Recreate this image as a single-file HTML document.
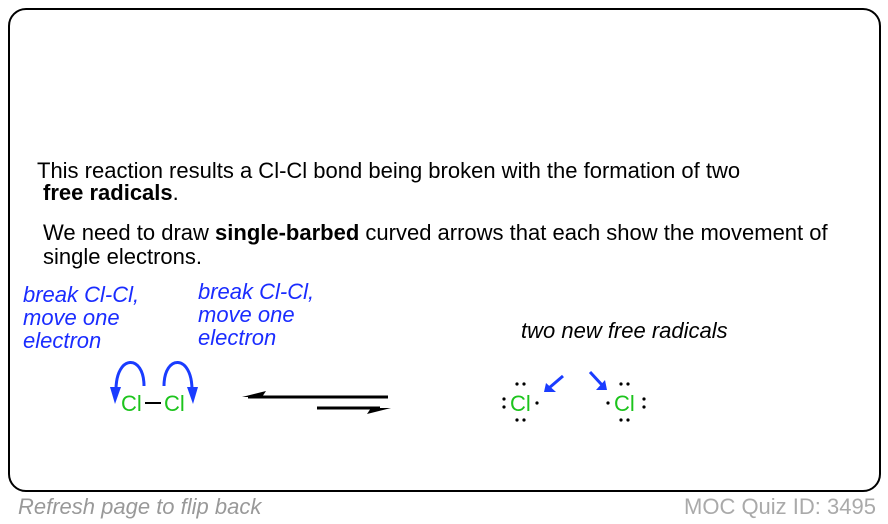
<!DOCTYPE html>
<html><head><style>
body{margin:0;width:888px;height:524px;background:#fff;position:relative;font-family:"Liberation Sans",sans-serif;overflow:hidden}
.box{position:absolute;left:8px;top:8px;width:869px;height:480px;border:2.5px solid #000;border-radius:18px}
.t{position:absolute;font-size:22px;line-height:25px;color:#000;white-space:nowrap}
.b{position:absolute;font-size:22px;color:#1a2cff;font-style:italic;line-height:23px;white-space:nowrap}
</style></head><body>
<div class="box"></div>
<div class="t" style="left:37px;top:158px">This reaction results a Cl-Cl bond being broken with the formation of two</div>
<div class="t" style="left:43px;top:180px"><b>free radicals</b>.</div>
<div class="t" style="left:43px;top:220px">We need to draw <b>single-barbed</b> curved arrows that each show the movement of</div>
<div class="t" style="left:43px;top:244px">single electrons.</div>
<div class="b" style="left:23px;top:283px">break Cl-Cl,<br>move one<br>electron</div>
<div class="b" style="left:198px;top:280px">break Cl-Cl,<br>move one<br>electron</div>
<div class="t" style="left:521px;top:318px;font-style:italic">two new free radicals</div>
<svg width="888" height="524" style="position:absolute;left:0;top:0">
<g font-family="Liberation Sans" font-size="22" fill="#1cc41c">
<text x="121" y="411">Cl</text><text x="164" y="411">Cl</text>
<text x="510" y="411">Cl</text><text x="614" y="411">Cl</text>
</g>
<line x1="145" y1="403" x2="161" y2="403" stroke="#000" stroke-width="2"/>
<g fill="none" stroke="#1a3cff" stroke-width="3">
<path d="M144 386 C144 354 116 354 116 390"/>
<path d="M164 386 C164 354 192 354 192 390"/>
<line x1="563" y1="376" x2="549" y2="388"/>
<line x1="590" y1="372" x2="602" y2="385"/>
</g>
<g fill="#1a3cff">
<polygon points="110,387 121,387 115,404"/>
<polygon points="187,387 198,387 193,404"/>
<polygon points="544,392 556,392 546,383"/>
<polygon points="607,390 596,390 605,380"/>
</g>
<g stroke="#000" stroke-width="3">
<line x1="248" y1="397" x2="388" y2="397"/>
<line x1="317" y1="408" x2="380" y2="408"/>
</g>
<polygon points="242,397 266,391 262,397" fill="#000"/>
<polygon points="391,408 367,414 371,408" fill="#000"/>
<g fill="#000">
<circle cx="517" cy="384" r="1.6"/><circle cx="524" cy="384" r="1.6"/>
<circle cx="517" cy="420" r="1.6"/><circle cx="524" cy="420" r="1.6"/>
<circle cx="504" cy="399" r="1.6"/><circle cx="504" cy="407" r="1.6"/>
<circle cx="537" cy="403" r="1.6"/>
<circle cx="621" cy="384" r="1.6"/><circle cx="628" cy="384" r="1.6"/>
<circle cx="621" cy="420" r="1.6"/><circle cx="628" cy="420" r="1.6"/>
<circle cx="644" cy="399" r="1.6"/><circle cx="644" cy="407" r="1.6"/>
<circle cx="608" cy="403" r="1.6"/>
</g>
</svg>
<div class="t" style="left:18px;top:494px;font-size:22px;color:#999;font-style:italic">Refresh page to flip back</div>
<div class="t" style="left:684px;top:494px;font-size:22px;color:#aaa">MOC Quiz ID: 3495</div>
</body></html>
